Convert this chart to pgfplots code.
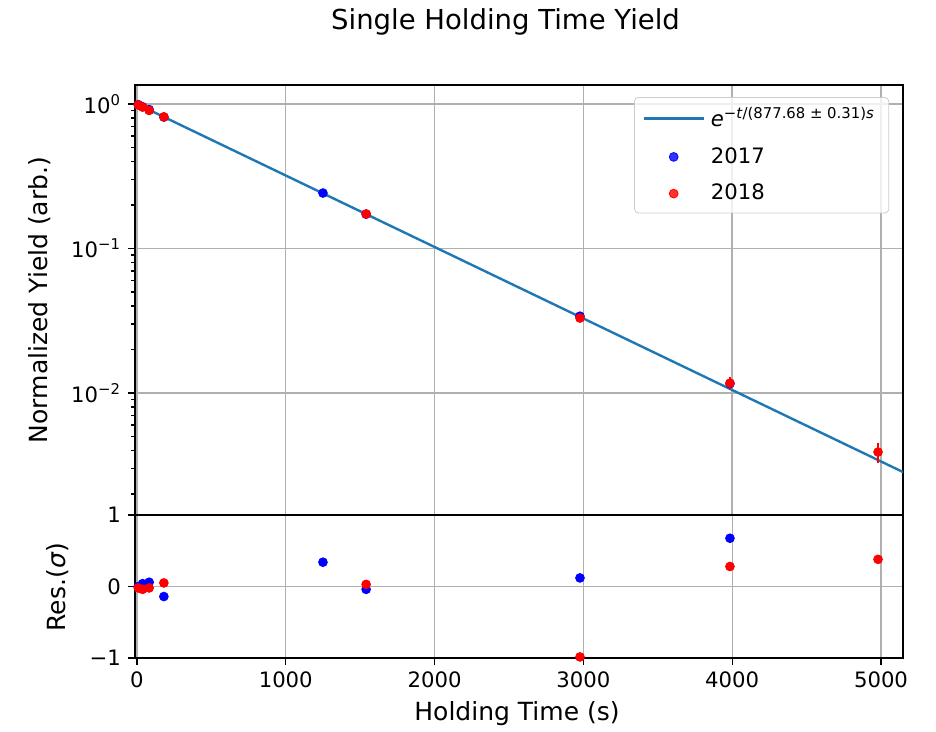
\documentclass[border=0pt]{standalone}
\usepackage{fontspec}
\setmainfont{DejaVu Sans}
\usepackage{pgfplots}
\pgfplotsset{compat=1.18}
\definecolor{tabblue}{HTML}{1F77B4}
\definecolor{gridgray}{HTML}{B0B0B0}
\begin{document}
\begin{tikzpicture}[x=1bp,y=1bp,font=\fontsize{10.6bp}{12.7bp}\selectfont]
\useasboundingbox (0,0) rectangle (468,365.5);
\pgfplotsset{
  every axis/.append style={
    scale only axis, width=384bp,
    xmin=-13, xmax=5148,
    axis line style={line width=0.7bp},
    tick align=outside,
    xtick pos=bottom, ytick pos=left,
    major tick length=3.5bp, minor tick length=2bp,
    every tick/.style={black, line width=0.7bp},
    grid=major,
    major grid style={gridgray, line width=0.7bp},
    tick label style={font=\fontsize{10.6bp}{12.7bp}\selectfont},
    xtick={0,1000,2000,3000,4000,5000},
  },
}
% top panel
\begin{axis}[
  at={(67.5bp,108bp)}, anchor=south west,
  height=215bp,
  ymode=log, ymin=0.00143, ymax=1.354,
  ytick={0.01,0.1,1},
  yticklabels={10\textsuperscript{−2},10\textsuperscript{−1},10\textsuperscript{0}},
  minor ytick={0.002,0.003,0.004,0.005,0.006,0.007,0.008,0.009,0.02,0.03,0.04,0.05,0.06,0.07,0.08,0.09,0.2,0.3,0.4,0.5,0.6,0.7,0.8,0.9},
  xticklabels={}, xtick style={draw=none},
  legend style={at={(rel axis cs:0.982,0.972)}, anchor=north east,
    draw=gray!40, rounded corners=2bp, fill=white, fill opacity=0.8, text opacity=1,
    font=\fontsize{10.6bp}{12.7bp}\selectfont, row sep=5bp, inner xsep=4bp, inner ysep=3bp,
    nodes={inner xsep=3bp}},
  legend cell align=left,
  legend image code/.code={\draw[mark repeat=2,mark phase=2,#1] plot coordinates {(0bp,0bp) (15bp,0bp) (30bp,0bp)};},
]
\addplot[tabblue, line width=1.2bp, mark=none] coordinates {(0,1) (5200,0.002672)};
\addlegendentry{\textit{e}\textsuperscript{−\textit{t}/(877.68 ± 0.31)\textit{s}}}
\addplot[only marks, mark=*, mark size=2.2bp, blue, mark options={draw=blue, fill=blue},
  error bars/.cd, y dir=both, y explicit, error mark=none, error bar style={blue, line width=1bp}]
  coordinates {
  (9,0.990) +- (0,0.004)
  (38,0.957) +- (0,0.004)
  (82,0.915) +- (0,0.004)
  (181,0.812) +- (0,0.004)
  (1250,0.242) +- (0,0.002)
  (1540,0.1728) +- (0,0.002)
  (2977,0.0340) +- (0,0.0007)
  (3985,0.0116) +- (0,0.0008)
  };
\addlegendentry{2017}
\addplot[only marks, mark=*, mark size=2.2bp, red, mark options={draw=red, fill=red},
  error bars/.cd, y dir=both, y explicit, error mark=none, error bar style={red, line width=1bp}]
  coordinates {
  (9,0.985) +- (0,0.004)
  (38,0.953) +- (0,0.004)
  (82,0.903) +- (0,0.004)
  (181,0.815) +- (0,0.004)
  (1540,0.1735) +- (0,0.002)
  (2977,0.0330) +- (0,0.0008)
  (3985,0.0117) +- (0,0.0011)
  (4980,0.0039) +- (0,0.00062)
  };
\addlegendentry{2018}
\end{axis}
% residual panel
\begin{axis}[
  at={(67.5bp,36.5bp)}, anchor=south west,
  height=71.5bp,
  ymin=-1, ymax=1,
  ytick={-1,0,1}, yticklabels={−1,0,1},
  xticklabels={0,1000,2000,3000,4000,5000},
]
\addplot[only marks, mark=*, mark size=2.2bp, blue, mark options={draw=blue, fill=blue}]
  coordinates {(9,0.0) (38,0.04) (82,0.06) (181,-0.14) (1250,0.34) (1540,-0.04) (2977,0.12) (3985,0.675)};
\addplot[only marks, mark=*, mark size=2.2bp, red, mark options={draw=red, fill=red}]
  coordinates {(9,-0.02) (38,-0.04) (82,-0.02) (181,0.05) (1540,0.03) (2977,-0.985) (3985,0.28) (4980,0.38)};
\end{axis}
\node[font=\fontsize{13.75bp}{16.5bp}\selectfont] at (252.75,354.5) {Single Holding Time Yield};
\node[font=\fontsize{12.5bp}{15bp}\selectfont] at (258.5,8.5) {Holding Time (s)};
\node[rotate=90,font=\fontsize{12.5bp}{15bp}\selectfont] at (20,215.5) {Normalized Yield (arb.)};
\node[rotate=90,font=\fontsize{12.5bp}{15bp}\selectfont] at (29,72) {Res.(\textit{σ})};
\end{tikzpicture}
\end{document}
